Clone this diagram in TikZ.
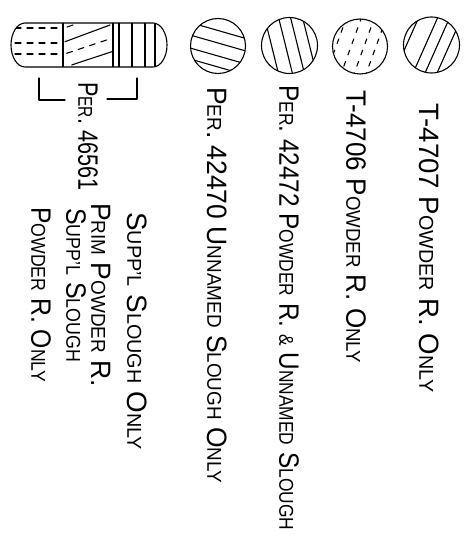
\documentclass[tikz,border=0pt]{standalone}
\usepackage{graphicx}
\usepackage{fontspec}
\setmainfont{Liberation Sans}
\newcommand\sm[1]{{\fontsize{20}{20}\selectfont #1}}
\newcommand\fitlen[2]{\resizebox{#1pt}{\height}{#2}}
\tikzset{
  ink/.style={line width=1.1pt, line cap=round, line join=round},
  lbl/.style={rotate=-90, anchor=west, inner sep=0pt, font=\fontsize{28}{28}\selectfont},
  dsh/.style={ink, dash pattern=on 6pt off 6pt},
}
\begin{document}
\begin{tikzpicture}[x=1pt,y=-1pt]
\useasboundingbox (0,0) rectangle (474,540);
% pill
\begin{scope}
  \clip (25,23) -- (153,23) arc[start angle=-90,end angle=90,x radius=14,y radius=22] -- (25,67) arc[start angle=90,end angle=270,x radius=14,y radius=22] -- cycle;
  \draw[dsh] (15,28) -- (60,28);
  \draw[dsh] (15,43) -- (60,43);
  \draw[dsh] (15,54) -- (60,54);
  \draw[ink] (63,20) -- (63,70);
  \draw[ink] (65,41.7) -- (110,25);
  \draw[dsh] (66.7,53.3) -- (111.7,38.3);
  \draw[ink] (71.7,65) -- (111.7,51.7);
  \draw[ink] (67,27) -- (73,25);
  \foreach \xx in {113,119,132,145,155} \draw[ink] (\xx,20) -- (\xx,70);
\end{scope}
\draw[ink] (25,23) -- (153,23) arc[start angle=-90,end angle=90,x radius=14,y radius=22] -- (25,67) arc[start angle=90,end angle=270,x radius=14,y radius=22] -- cycle;
% bracket
\coordinate (b1) at (39,78);
\coordinate (b2) at (39,100);
\coordinate (b3) at (65,100);
\coordinate (b4) at (107,99);
\coordinate (b5) at (137,99);
\coordinate (b6) at (137,78);
\draw[ink] (b1) -- (b2) -- (b3);
\draw[ink] (b4) -- (b5) -- (b6);
% circle 1 : Per. 42470
\node[ink, draw, circle, minimum size=55pt, inner sep=0pt] (c1) at (218,46) {};
\begin{scope}
  \clip (218,46) circle[radius=27.5];
  \foreach \v in {-15.5,-3,10,21}
    \draw[ink] ({218-45*cos(16)},{46+\v-45*sin(16)}) -- ({218+45*cos(16)},{46+\v+45*sin(16)});
\end{scope}
% circle 2 : Per. 42472
\node[ink, draw, circle, minimum size=56pt, inner sep=0pt] (c2) at (289.5,45.5) {};
\begin{scope}
  \clip (289.5,45.5) circle[radius=28];
  \foreach \v in {-18,-4,8,20}
    \draw[ink] ({289.5+\v-45*cos(76)},{45.5-45*sin(76)}) -- ({289.5+\v+45*cos(76)},{45.5+45*sin(76)});
\end{scope}
% circle 3 : T-4706
\node[ink, draw, circle, minimum size=55pt, inner sep=0pt] (c3) at (360,46.5) {};
\begin{scope}
  \clip (360,46.5) circle[radius=27.5];
  \foreach \v in {-24,-9,4,16}
    \draw[ink, dash pattern=on 5pt off 7pt] ({360+\v-45*cos(-70)},{46.5-45*sin(-70)}) -- ({360+\v+45*cos(-70)},{46.5+45*sin(-70)});
\end{scope}
% circle 4 : T-4707
\node[ink, draw, circle, minimum size=56pt, inner sep=0pt] (c4) at (431.5,45) {};
\begin{scope}
  \clip (431.5,45) circle[radius=28];
  \foreach \v in {-25,-6,6,18}
    \draw[ink] ({431.5+\v-45*cos(-66)},{45-45*sin(-66)}) -- ({431.5+\v+45*cos(-66)},{45+45*sin(-66)});
\end{scope}
% labels
\node[lbl] (t1) at (429,103) {\fitlen{289}{T-4707 P\sm{OWDER} R. O\sm{NLY}}};
\node[lbl] (t2) at (356,90) {\fitlen{273}{T-4706 P\sm{OWDER} R. O\sm{NLY}}};
\node[lbl] (t3) at (289,85) {\fitlen{445}{P\sm{ER}. 42472 P\sm{OWDER} R. \sm{\&} U\sm{NNAMED} S\sm{LOUGH}}};
\node[lbl] (t4) at (217,87) {\fitlen{396}{P\sm{ER}. 42470 U\sm{NNAMED} S\sm{LOUGH} O\sm{NLY}}};
\node[lbl] (t5) at (137,212) {\fitlen{238}{S\sm{UPP'L} S\sm{LOUGH} O\sm{NLY}}};
\node[lbl] (t6) at (88,82) {\fitlen{108}{P\sm{ER}. 46561}};
\node[lbl] (t7) at (101,203) {\fitlen{184}{P\sm{RIM} P\sm{OWDER} R.}};
\node[lbl] (t8) at (76,208) {\fitlen{154}{S\sm{UPP'L} S\sm{LOUGH}}};
\node[lbl] (t9) at (41,207) {\fitlen{175}{P\sm{OWDER} R. O\sm{NLY}}};
\end{tikzpicture}
\end{document}
